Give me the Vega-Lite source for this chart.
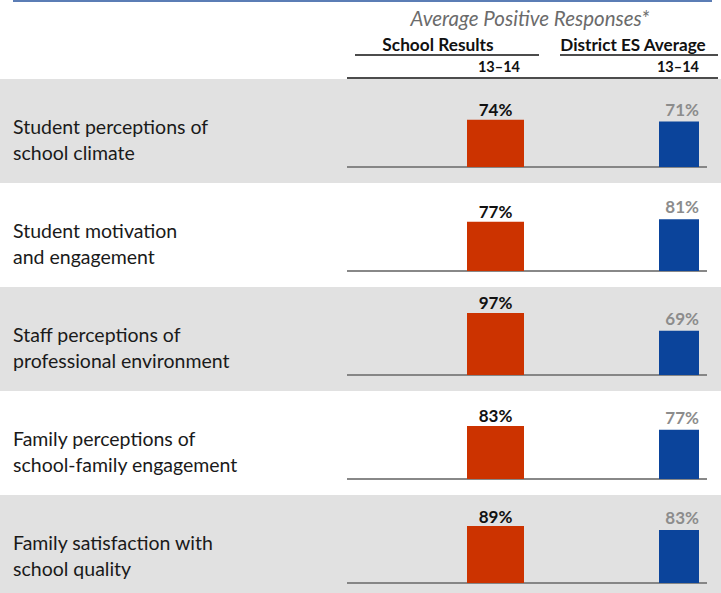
{
  "$schema": "https://vega.github.io/schema/vega-lite/v6.json",
  "padding": 0,
  "spacing": 0,
  "background": "white",
  "config": {"view": {"stroke": null}, "font": "Lato", "concat": {"spacing": 0}, "facet": {"spacing": 0}},
  "datasets": {
    "bars": [
      {"category": "Student perceptions of\nschool climate", "series": "School Results", "value": 0.74},
      {"category": "Student perceptions of\nschool climate", "series": "District ES Average", "value": 0.71},
      {"category": "Student motivation\nand engagement", "series": "School Results", "value": 0.77},
      {"category": "Student motivation\nand engagement", "series": "District ES Average", "value": 0.81},
      {"category": "Staff perceptions of\nprofessional environment", "series": "School Results", "value": 0.97},
      {"category": "Staff perceptions of\nprofessional environment", "series": "District ES Average", "value": 0.69},
      {"category": "Family perceptions of\nschool-family engagement", "series": "School Results", "value": 0.83},
      {"category": "Family perceptions of\nschool-family engagement", "series": "District ES Average", "value": 0.77},
      {"category": "Family satisfaction with\nschool quality", "series": "School Results", "value": 0.89},
      {"category": "Family satisfaction with\nschool quality", "series": "District ES Average", "value": 0.83}
    ]
  },
  "vconcat": [
    {
      "width": 721,
      "height": 78,
      "data": {"values": [{}]},
      "layer": [
        {"mark": {"type": "rule", "color": "#5b7db5", "strokeWidth": 2},
         "encoding": {"x": {"value": 13}, "x2": {"value": 712}, "y": {"value": 1}}},
        {"mark": {"type": "text", "text": "Average Positive Responses*", "fontStyle": "italic", "fontSize": 20.5, "color": "#6b6b6b", "align": "center", "baseline": "alphabetic"},
         "encoding": {"x": {"value": 530}, "y": {"value": 26}}},
        {"mark": {"type": "text", "text": "School Results", "fontWeight": "bold", "fontSize": 17.3, "color": "#111111", "align": "center", "baseline": "alphabetic"},
         "encoding": {"x": {"value": 438}, "y": {"value": 51}}},
        {"mark": {"type": "text", "text": "District ES Average", "fontWeight": "bold", "fontSize": 17.1, "color": "#111111", "align": "center", "baseline": "alphabetic"},
         "encoding": {"x": {"value": 633}, "y": {"value": 51}}},
        {"mark": {"type": "rule", "color": "#111111", "strokeWidth": 1.3},
         "encoding": {"x": {"value": 355}, "x2": {"value": 539}, "y": {"value": 55}}},
        {"mark": {"type": "rule", "color": "#111111", "strokeWidth": 1.3},
         "encoding": {"x": {"value": 560}, "x2": {"value": 718}, "y": {"value": 55}}},
        {"mark": {"type": "text", "text": "13–14", "fontWeight": "bold", "fontSize": 14.5, "color": "#111111", "align": "right", "baseline": "alphabetic"},
         "encoding": {"x": {"value": 520}, "y": {"value": 72}}},
        {"mark": {"type": "text", "text": "13–14", "fontWeight": "bold", "fontSize": 14.5, "color": "#111111", "align": "right", "baseline": "alphabetic"},
         "encoding": {"x": {"value": 699}, "y": {"value": 72}}},
        {"mark": {"type": "rule", "color": "#111111", "strokeWidth": 1.5},
         "encoding": {"x": {"value": 347}, "x2": {"value": 718}, "y": {"value": 78}}}
      ]
    },
    {
      "data": {"name": "bars"},
      "facet": {
        "row": {
          "field": "category",
          "type": "nominal",
          "header": null,
          "sort": [
            "Student perceptions of\nschool climate",
            "Student motivation\nand engagement",
            "Staff perceptions of\nprofessional environment",
            "Family perceptions of\nschool-family engagement",
            "Family satisfaction with\nschool quality"
          ]
        }
      },
      "spacing": 0,
      "spec": {
        "width": 721,
        "height": 104,
        "encoding": {
          "x": {"field": "series", "type": "nominal", "axis": null,
                "scale": {"type": "point", "domain": ["School Results", "District ES Average"], "range": [495.5, 679], "padding": 0}},
          "y": {"field": "value", "type": "quantitative", "axis": null,
                "scale": {"domain": [-0.25, 1.375], "nice": false, "zero": false}}
        },
        "layer": [
          {
            "transform": [{"filter": "datum.series == 'School Results'"}],
            "mark": {"type": "rect"},
            "encoding": {
              "x": {"value": 0}, "x2": {"value": "width"},
              "y": {"value": 0}, "y2": {"value": "height"},
              "fill": {"field": "category", "type": "nominal", "legend": null,
                       "scale": {"domain": [
                         "Student perceptions of\nschool climate",
                         "Student motivation\nand engagement",
                         "Staff perceptions of\nprofessional environment",
                         "Family perceptions of\nschool-family engagement",
                         "Family satisfaction with\nschool quality"],
                         "range": ["#e1e1e1", "#ffffff", "#e1e1e1", "#ffffff", "#e1e1e1"]}}
            }
          },
          {
            "transform": [{"filter": "datum.series == 'School Results'"}],
            "mark": {"type": "text", "align": "left", "baseline": "alphabetic", "fontSize": 19.5, "lineHeight": 26, "lineBreak": "\n", "color": "#1a1a1a"},
            "encoding": {
              "x": {"value": 13},
              "y": {"datum": 0.516},
              "text": {"field": "category", "type": "nominal"}
            }
          },
          {
            "mark": {"type": "rule", "color": "#808080", "strokeWidth": 1.5},
            "encoding": {"x": {"value": 347}, "x2": {"value": 707}, "y": {"datum": 0}}
          },
          {
            "transform": [{"filter": "datum.series == 'School Results'"}],
            "mark": {"type": "bar", "width": 57, "color": "#cc3300"},
            "encoding": {"y2": {"datum": 0}}
          },
          {
            "transform": [{"filter": "datum.series == 'District ES Average'"}],
            "mark": {"type": "bar", "width": 40, "color": "#0b449b"},
            "encoding": {"y2": {"datum": 0}}
          },
          {
            "transform": [{"filter": "datum.series == 'School Results'"}],
            "mark": {"type": "text", "align": "center", "baseline": "alphabetic", "dy": -3.5, "fontSize": 17, "fontWeight": "bold", "color": "#111111"},
            "encoding": {"text": {"field": "value", "type": "quantitative", "format": ".0%"}}
          },
          {
            "transform": [{"filter": "datum.series == 'District ES Average'"}],
            "mark": {"type": "text", "align": "right", "baseline": "alphabetic", "dx": 20, "dy": -6, "fontSize": 17, "fontWeight": "bold", "color": "#8c8c8c"},
            "encoding": {"text": {"field": "value", "type": "quantitative", "format": ".0%"}}
          }
        ]
      }
    }
  ]
}
